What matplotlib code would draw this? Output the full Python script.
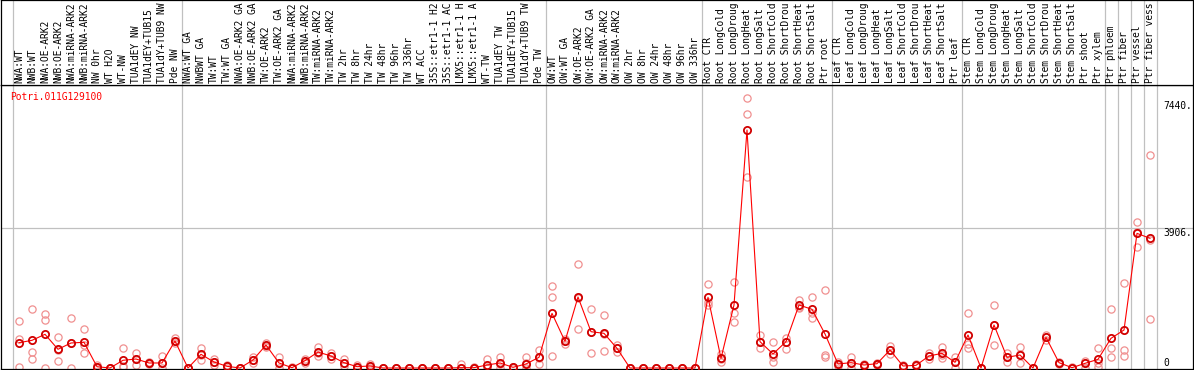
import numpy as np
import matplotlib
matplotlib.use("Agg")
import matplotlib.pyplot as plt

gene = "Potri.011G129100"

# sample names, cut to 14 characters like the source image
labels = [
    "NWA:WT", "NWB:WT", "NWA:OE-ARK2", "NWB:OE-ARK2", "NWA:miRNA-ARK2",
    "NWB:miRNA-ARK2", "NW 0hr", "WT H2O", "WT-NW", "TUA1dEY NW",
    "TUA1dEY+TUB15", "TUA1dY+TUB9 NW", "Pde NW",
    "NWA:WT GA", "NWBWT GA", "TW:WT", "TW:WT GA", "NWA:OE-ARK2 GA",
    "NWB:OE-ARK2 GA", "TW:OE-ARK2", "TW:OE-ARK2 GA", "NWA:miRNA-ARK2",
    "NWB:miRNA-ARK2", "TW:miRNA-ARK2", "TW:miRNA-ARK2", "TW 2hr",
    "TW 8hr", "TW 24hr", "TW 48hr", "TW 96hr", "TW 336hr", "WT ACC",
    "35S::etr1-1 H2", "35S::etr1-1 AC", "LMX5::etr1-1 H",
    "LMX5::etr1-1 A", "WT-TW", "TUA1dEY TW", "TUA1dEY+TUB15",
    "TUA1dY+TUB9 TW", "Pde TW",
    "OW:WT", "OW:WT GA", "OW:OE-ARK2", "OW:OE-ARK2 GA", "OW:miRNA-ARK2",
    "OW:miRNA-ARK2", "OW 2hr", "OW 8hr", "OW 24hr", "OW 48hr", "OW 96hr",
    "OW 336hr",
    "Root CTR", "Root LongCold", "Root LongDroug", "Root LongHeat",
    "Root LongSalt", "Root ShortCold", "Root ShortDrou", "Root ShortHeat",
    "Root ShortSalt", "Ptr root",
    "Leaf CTR", "Leaf LongCold", "Leaf LongDroug", "Leaf LongHeat",
    "Leaf LongSalt", "Leaf ShortCold", "Leaf ShortDrou", "Leaf ShortHeat",
    "Leaf ShortSalt", "Ptr leaf",
    "Stem CTR", "Stem LongCold", "Stem LongDroug", "Stem LongHeat",
    "Stem LongSalt", "Stem ShortCold", "Stem ShortDrou", "Stem ShortHeat",
    "Stem ShortSalt", "Ptr shoot", "Ptr xylem",
    "Ptr phloem", "Ptr fiber", "Ptr vessel", "Ptr fiber vess",
]

# mean expression per sample
means = [
    706, 772, 940, 522, 698, 717, 36, 0, 215, 251, 140, 140, 753,
    0, 382, 167, 47, 0, 223, 642, 140, 9, 205, 446, 335, 149, 37, 56,
    0, 0, 0, 0, 0, 0, 9, 9, 84, 140, 19, 112, 298,
    1525, 744, 1981, 1013, 967, 549, 0, 0, 0, 0, 0, 0,
    1972, 270, 1758, 6640, 735, 391, 735, 1758, 1637, 949,
    112, 149, 84, 120, 502, 56, 74, 335, 409, 158,
    921, 0, 1200, 298, 363, 0, 856, 149, 9, 130, 242,
    828, 1060, 3757, 3618,
]

# individual replicates
reps = [
    [1303, 800, 15], [1646, 455, 243], [1498, 1331, 0], [856, 515, 195],
    [1387, 707, 0], [1080, 644, 427], [70, 30, 0], [0, 0, 0],
    [549, 56, 40], [427, 242, 84], [180, 140, 100], [343, 130, 0],
    [828, 740, 690],
    [0, 0, 0], [549, 374, 223], [260, 167, 80], [80, 47, 10], [0, 0, 0],
    [300, 223, 150], [706, 626, 594], [310, 140, 0], [20, 5, 0],
    [260, 205, 149], [577, 426, 335], [420, 335, 243], [240, 149, 60],
    [70, 37, 0], [100, 56, 10], [0, 0, 0], [0, 0, 0], [0, 0, 0],
    [0, 0, 0], [0, 0, 0], [0, 0, 0], [112, 0, 0], [30, 0, 0],
    [251, 0, 0], [298, 120, 0], [40, 19, 0], [298, 130, 0],
    [502, 280, 112],
    [2288, 1972, 335], [820, 744, 670], [2900, 1960, 1080],
    [1637, 994, 427], [1479, 948, 474], [642, 549, 456],
    [0, 0, 0], [0, 0, 0], [0, 0, 0], [0, 0, 0], [0, 0, 0], [0, 0, 0],
    [2344, 1850, 1758], [391, 242, 177], [2408, 1543, 1292],
    [7524, 7078, 5320], [921, 735, 549], [735, 298, 177],
    [828, 735, 530], [1897, 1711, 1666], [1972, 1525, 1386],
    [2176, 373, 298],
    [177, 112, 50], [298, 149, 0], [120, 84, 50], [150, 120, 90],
    [614, 501, 391], [80, 56, 30], [100, 74, 50], [420, 335, 243],
    [594, 363, 270], [316, 158, 0],
    [1543, 671, 549], [0, 0, 0], [1758, 1200, 642], [427, 298, 170],
    [577, 382, 130], [0, 0, 0], [921, 856, 790], [177, 149, 120],
    [20, 9, 0], [200, 130, 0], [549, 130, 19],
    [1637, 549, 298], [2362, 502, 335], [4082, 3805, 3384],
    [5943, 3571, 1359],
]

# first sample index of each block (grey separators)
group_starts = [0, 13, 41, 53, 63, 73, 84, 85, 86, 87, 88]
ytick_vals = [7440, 3906, 0]
ytick_text = ["7440.", "3906.", "0"]

W, H = 1194, 370
scale = 3906 / 140.0  # value per pixel
font = dict(family="DejaVu Sans Mono", size=6.9)

fig = plt.figure(figsize=(W / 100, H / 100), dpi=100)
fig.patch.set_facecolor("white")

# pixel box -> figure fraction
def frac(x0, y0, x1, y1):
    return [x0 / W, 1 - y1 / H, (x1 - x0) / W, (y1 - y0) / H]

ax = fig.add_axes(frac(1, 85, 1193, 369))
hax = fig.add_axes(frac(1, 0, 1193, 85), sharex=ax)

xlo, xhi = (1 - 19) / 13, (1193 - 19) / 13
ax.set_xlim(xlo, xhi)
ax.set_ylim(-1 * scale, 283 * scale)
hax.set_ylim(0, 1)

for a in (ax, hax):
    a.set_xticks([])
    a.set_yticks([])
    for s in a.spines.values():
        s.set_color("black")
        s.set_linewidth(0.9)
    for g in group_starts:
        a.axvline(g - 0.5, color="#c0c0c0", lw=0.9, zorder=0)

ax.axhline(3906, color="#c0c0c0", lw=0.9, zorder=0)

x = np.arange(len(means))
reps_arr = np.array(reps)
for k in range(reps_arr.shape[1]):
    ax.plot(x, reps_arr[:, k], ls="none", marker="o", ms=5.2, mfc="none",
            mec="#f09090", mew=0.9, zorder=2)

ax.plot(x, means, color="red", lw=0.8, zorder=3)
ax.plot(x, means, ls="none", marker="o", ms=5.2, mfc="none",
        mec="#d00000", mew=1.3, zorder=4)

for i, lab in enumerate(labels):
    hax.text(i, 0.025, lab, rotation=90, ha="center", va="bottom",
             fontdict=font)

for v, t in zip(ytick_vals, ytick_text):
    ax.text(88, v, t, ha="left", va="top" if v > 0 else "bottom",
            fontdict=font)

ax.text(9 / 1192, (369 - 97) / 284, gene, transform=ax.transAxes,
        ha="left", va="center", color="red", fontdict=font)

fig.savefig("out.png", dpi=100)
